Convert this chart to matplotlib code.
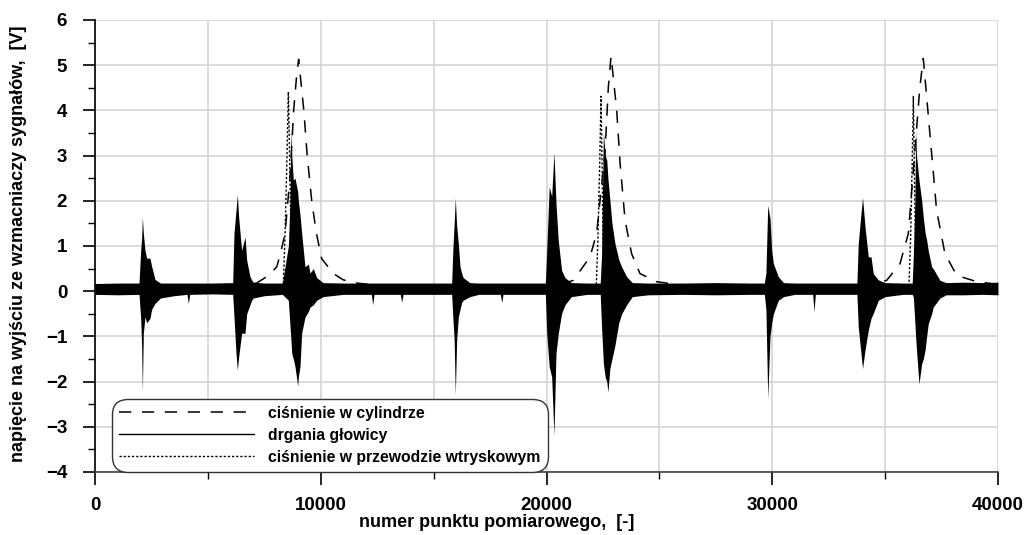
import matplotlib
matplotlib.use("Agg")
from matplotlib import pyplot as plt
from matplotlib.lines import Line2D
from matplotlib.ticker import MultipleLocator

plt.rcParams['font.family'] = ['Liberation Sans', 'DejaVu Sans']
plt.rcParams['font.weight'] = 'bold'

# drgania glowicy - envelope of the vibration signal (upper / lower)
vib_x = [0, 1000, 1950,
         2024, 2068, 2098, 2141, 2215, 2289, 2436, 2510, 2658,
         2900, 3500, 4075, 4135, 4195, 5200, 6100,
         6157, 6246, 6305, 6364, 6453, 6497, 6645, 6719, 6866, 6940, 7014,
         7500, 8300,
         8565, 8640, 8670, 8715, 8785, 8860, 8980, 9007, 9080, 9155, 9302, 9450, 9524, 9670, 9820,
         10100, 11000, 12240, 12300, 12360, 13525, 13585, 13645, 14500, 15800,
         15850, 15910, 15960, 16020, 16095, 16170, 16240, 16310,
         16600, 17000, 17955, 18015, 18075, 19500, 19950,
         20010, 20120, 20230, 20330, 20420, 20520, 20670, 20820,
         21100, 21800, 22380,
         22440, 22520, 22600, 22670, 22720, 22810, 22900, 23030, 23200, 23330, 23550,
         23800, 24500, 26000, 27500, 29000, 29650,
         29720, 29800, 29900, 29975, 30050, 30270,
         30500, 31000, 31790, 31850, 31910, 33000, 33750,
         33810, 33915, 34000, 34110, 34255, 34375, 34475, 34700,
         35000, 35800, 36200,
         36250, 36320, 36350, 36390, 36500, 36620, 36690, 36770, 36840, 36910, 37060, 37130, 37430,
         37700, 38500, 39300, 40000]
vib_hi = [0.17, 0.18, 0.18,
          0.90, 1.20, 1.64, 1.28, 0.90, 0.73, 0.73, 0.55, 0.26,
          0.18, 0.18, 0.18, 0.18, 0.18, 0.18, 0.19,
          1.28, 1.79, 2.14, 1.64, 1.13, 0.90, 1.20, 0.69, 0.32, 0.25, 0.20,
          0.18, 0.18,
          1.00, 2.00, 3.56, 3.00, 2.46, 2.50, 2.20, 2.00, 1.70, 1.28, 0.54, 0.60, 0.40, 0.50, 0.30,
          0.19, 0.18, 0.18, 0.18, 0.18, 0.18, 0.18, 0.18, 0.18, 0.18,
          0.90, 1.50, 2.06, 1.45, 1.05, 0.54, 0.40, 0.30,
          0.19, 0.18, 0.18, 0.18, 0.18, 0.18, 0.18,
          0.90, 2.31, 2.10, 3.07, 1.94, 1.13, 0.46, 0.30,
          0.19, 0.18, 0.18,
          0.80, 3.52, 3.00, 2.90, 2.50, 2.00, 1.50, 1.06, 0.70, 0.54, 0.32,
          0.19, 0.18, 0.18, 0.19, 0.18, 0.18,
          0.40, 1.90, 1.61, 0.90, 0.61, 0.32,
          0.19, 0.18, 0.18, 0.18, 0.18, 0.18, 0.18,
          1.05, 1.64, 2.07, 1.42, 0.76, 0.76, 0.39, 0.25,
          0.19, 0.18, 0.18,
          0.80, 2.00, 3.56, 3.00, 2.46, 2.00, 1.64, 1.30, 1.13, 0.90, 0.54, 0.50, 0.24,
          0.19, 0.20, 0.19, 0.20]
vib_lo = [-0.07, -0.08, -0.07,
          -0.60, -1.23, -2.23, -0.93, -0.57, -0.70, -0.60, -0.40, -0.27,
          -0.15, -0.10, -0.07, -0.27, -0.07, -0.06, -0.07,
          -0.57, -1.37, -1.75, -1.45, -1.10, -0.93, -0.93, -0.50, -0.30, -0.20, -0.15,
          -0.10, -0.07,
          -0.20, -0.79, -1.00, -1.37, -1.50, -1.67, -2.10, -1.90, -1.67, -0.93, -0.57, -0.45, -0.35, -0.30, -0.20,
          -0.12, -0.07, -0.07, -0.30, -0.07, -0.07, -0.25, -0.07, -0.07, -0.07,
          -0.57, -1.08, -2.30, -1.08, -0.57, -0.40, -0.25, -0.20,
          -0.12, -0.07, -0.07, -0.25, -0.07, -0.07, -0.07,
          -0.94, -1.67, -1.90, -3.19, -1.38, -0.94, -0.49, -0.30,
          -0.12, -0.07, -0.07,
          -0.80, -1.60, -1.90, -2.00, -2.23, -1.70, -1.50, -1.20, -0.70, -0.50, -0.30,
          -0.12, -0.08, -0.07, -0.08, -0.07, -0.07,
          -0.40, -2.37, -1.00, -0.70, -0.50, -0.20,
          -0.12, -0.07, -0.07, -0.45, -0.07, -0.07, -0.07,
          -0.79, -1.30, -1.71, -1.30, -0.86, -0.60, -0.49, -0.20,
          -0.12, -0.07, -0.07,
          -0.13, -0.72, -1.00, -1.30, -2.05, -1.60, -1.50, -1.30, -1.00, -0.72, -0.50, -0.35, -0.15,
          -0.08, -0.08, -0.07, -0.08]

# cisnienie w cylindrze
cyl_x = [0, 6500, 7160, 7700, 8050, 8200, 8420, 8650, 8800, 8920, 9020,
         9250, 9400, 9600, 9800, 10040, 10560, 11000, 11590, 12500,
         20500, 21190, 21930, 22220, 22590, 22740, 22860,
         23110, 23260, 23480, 23770, 24140, 24880, 26000,
         34300, 35070, 35660, 36030, 36250, 36540, 36690,
         36840, 37060, 37280, 37650, 38170, 39060, 40000]
cyl_y = [0.12, 0.12, 0.18, 0.35, 0.54, 0.80, 1.28, 2.60, 4.00, 4.70, 5.13,
         4.00, 3.00, 2.00, 1.30, 0.72, 0.39, 0.25, 0.18, 0.13,
         0.13, 0.24, 0.76, 1.28, 3.05, 4.52, 5.20,
         4.00, 2.83, 1.57, 0.83, 0.39, 0.21, 0.13,
         0.13, 0.24, 0.61, 1.28, 2.68, 4.52, 5.15,
         4.30, 3.05, 1.79, 0.83, 0.35, 0.21, 0.15]

# cisnienie w przewodzie wtryskowym
inj_x = [0, 8340, 8415, 8490, 8565, 8640, 8710, 8800,
         22200, 22280, 22360, 22415, 22470, 22530, 22600,
         36050, 36130, 36200, 36250, 36300, 36370, 36450, 40000]
inj_y = [0.05, 0.10, 1.20, 2.68, 4.41, 2.45, 0.20, 0.05,
         0.05, 1.20, 2.90, 4.31, 2.50, 0.20, 0.05,
         0.05, 1.20, 2.90, 4.31, 2.50, 0.20, 0.05, 0.05]

labels = ["ciśnienie w cylindrze", "drgania głowicy", "ciśnienie w przewodzie wtryskowym"]

fig = plt.figure(figsize=(10.25, 5.35), dpi=100)
ax = fig.add_axes([95/1025, 63/535, 903/1025, 452/535])

ax.fill_between(vib_x, vib_lo, vib_hi, color="black", linewidth=0, zorder=3)
ax.plot(cyl_x, cyl_y, color="black", lw=1.1, dashes=[8, 7], zorder=4)
ax.plot(inj_x, inj_y, color="black", lw=1.0, dashes=[1.6, 1.4], zorder=4)

ax.set_xlim(0, 40000)
ax.set_ylim(-4, 6)
ax.xaxis.set_major_locator(MultipleLocator(10000))
ax.xaxis.set_minor_locator(MultipleLocator(5000))
ax.yaxis.set_major_locator(MultipleLocator(1))
ax.yaxis.set_minor_locator(MultipleLocator(0.5))

ax.set_axisbelow(True)
ax.grid(True, which="both", axis="x", color="#d4d4d4", lw=1.2)
ax.grid(True, which="major", axis="y", color="#d4d4d4", lw=1.2)

for s in ["top", "right"]:
    ax.spines[s].set_visible(False)
ax.spines["left"].set_linewidth(1.2)
ax.spines["bottom"].set_linewidth(1.2)
ax.spines["bottom"].set_color("#404040")

ax.tick_params(which="major", direction="out", length=9, width=1.2, labelsize=13.5, pad=9)
ax.tick_params(which="minor", direction="out", length=5, width=1.0)
ax.tick_params(axis="y", which="major", pad=11)

ax.set_xlabel("numer punktu pomiarowego,  [-]", fontsize=13, fontweight="bold")
ax.set_ylabel("napięcie na wyjściu ze wzmacniaczy sygnałów,  [V]", fontsize=13, fontweight="bold")
ax.xaxis.set_label_coords(0.445, -0.111)
ax.xaxis.label.set_va("center")
ax.yaxis.set_label_coords(-0.085, 0.505)
ax.yaxis.label.set_va("center")

handles = [Line2D([], [], color="black", lw=1.1, dashes=[8, 7]),
           Line2D([], [], color="black", lw=1.0),
           Line2D([], [], color="black", lw=1.0, dashes=[1.6, 1.4])]
leg = ax.legend(handles, labels, loc="lower left", bbox_to_anchor=(0.0188, 0.0),
                borderaxespad=0, prop={"size": 11.3, "weight": "bold"},
                handlelength=8.6, handletextpad=0.9, labelspacing=0.45,
                borderpad=0.45, framealpha=1, fancybox=True)
leg.get_frame().set_boxstyle("round,pad=0,rounding_size=1.0")
leg.get_frame().set_edgecolor("#333333")
leg.get_frame().set_linewidth(1.0)
leg.set_zorder(5)

fig.savefig("out.png", dpi=100)
